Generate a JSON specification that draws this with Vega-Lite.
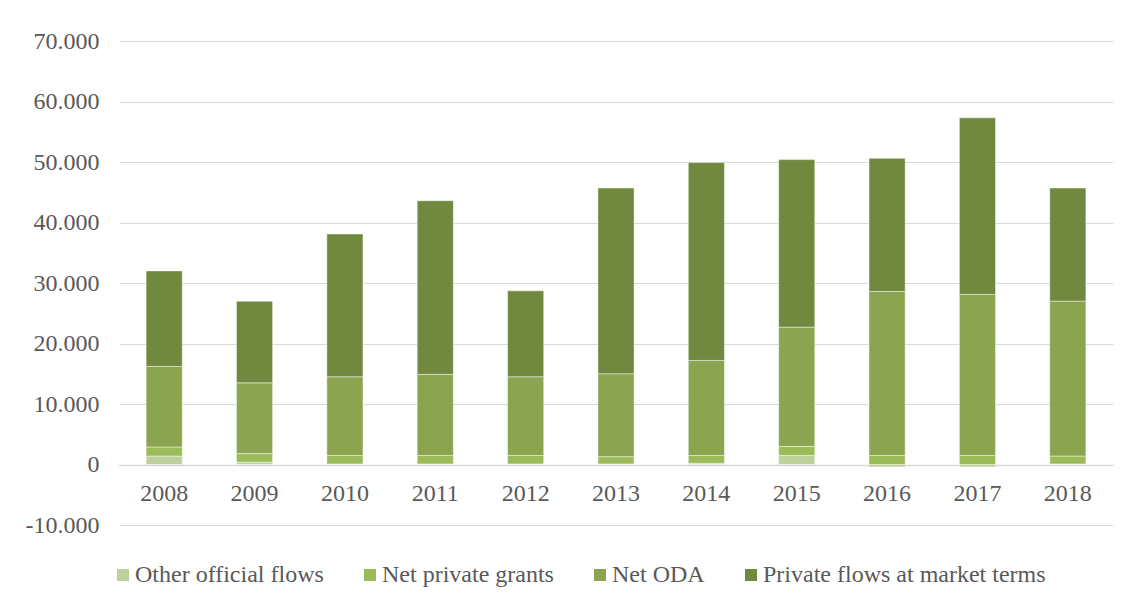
{
  "$schema": "https://vega.github.io/schema/vega-lite/v6.json",
  "width": 994,
  "height": 484,
  "autosize": "none",
  "padding": {"left": 119, "top": 41, "right": 16, "bottom": 81},
  "background": "white",
  "data": {
    "values": [
      {"year": "2008", "series": "Other official flows", "ord": 1, "value": 1400},
      {"year": "2008", "series": "Net private grants", "ord": 2, "value": 1500},
      {"year": "2008", "series": "Net ODA", "ord": 3, "value": 13300},
      {"year": "2008", "series": "Private flows at market terms", "ord": 4, "value": 15800},
      {"year": "2009", "series": "Other official flows", "ord": 1, "value": 400},
      {"year": "2009", "series": "Net private grants", "ord": 2, "value": 1400},
      {"year": "2009", "series": "Net ODA", "ord": 3, "value": 11700},
      {"year": "2009", "series": "Private flows at market terms", "ord": 4, "value": 13500},
      {"year": "2010", "series": "Other official flows", "ord": 1, "value": 100},
      {"year": "2010", "series": "Net private grants", "ord": 2, "value": 1400},
      {"year": "2010", "series": "Net ODA", "ord": 3, "value": 13000},
      {"year": "2010", "series": "Private flows at market terms", "ord": 4, "value": 23600},
      {"year": "2011", "series": "Other official flows", "ord": 1, "value": 100},
      {"year": "2011", "series": "Net private grants", "ord": 2, "value": 1400},
      {"year": "2011", "series": "Net ODA", "ord": 3, "value": 13400},
      {"year": "2011", "series": "Private flows at market terms", "ord": 4, "value": 28700},
      {"year": "2012", "series": "Other official flows", "ord": 1, "value": 100},
      {"year": "2012", "series": "Net private grants", "ord": 2, "value": 1400},
      {"year": "2012", "series": "Net ODA", "ord": 3, "value": 13000},
      {"year": "2012", "series": "Private flows at market terms", "ord": 4, "value": 14200},
      {"year": "2013", "series": "Other official flows", "ord": 1, "value": 100},
      {"year": "2013", "series": "Net private grants", "ord": 2, "value": 1200},
      {"year": "2013", "series": "Net ODA", "ord": 3, "value": 13700},
      {"year": "2013", "series": "Private flows at market terms", "ord": 4, "value": 30700},
      {"year": "2014", "series": "Other official flows", "ord": 1, "value": 200},
      {"year": "2014", "series": "Net private grants", "ord": 2, "value": 1300},
      {"year": "2014", "series": "Net ODA", "ord": 3, "value": 15700},
      {"year": "2014", "series": "Private flows at market terms", "ord": 4, "value": 32700},
      {"year": "2015", "series": "Other official flows", "ord": 1, "value": 1500},
      {"year": "2015", "series": "Net private grants", "ord": 2, "value": 1500},
      {"year": "2015", "series": "Net ODA", "ord": 3, "value": 19700},
      {"year": "2015", "series": "Private flows at market terms", "ord": 4, "value": 27700},
      {"year": "2016", "series": "Other official flows", "ord": 1, "value": -400},
      {"year": "2016", "series": "Net private grants", "ord": 2, "value": 1500},
      {"year": "2016", "series": "Net ODA", "ord": 3, "value": 27100},
      {"year": "2016", "series": "Private flows at market terms", "ord": 4, "value": 22000},
      {"year": "2017", "series": "Other official flows", "ord": 1, "value": -400},
      {"year": "2017", "series": "Net private grants", "ord": 2, "value": 1500},
      {"year": "2017", "series": "Net ODA", "ord": 3, "value": 26600},
      {"year": "2017", "series": "Private flows at market terms", "ord": 4, "value": 29200},
      {"year": "2018", "series": "Other official flows", "ord": 1, "value": 100},
      {"year": "2018", "series": "Net private grants", "ord": 2, "value": 1300},
      {"year": "2018", "series": "Net ODA", "ord": 3, "value": 25600},
      {"year": "2018", "series": "Private flows at market terms", "ord": 4, "value": 18700}
    ]
  },
  "mark": {"type": "bar", "stroke": "#ffffff", "strokeOpacity": 0.45, "strokeWidth": 1},
  "encoding": {
    "x": {
      "field": "year",
      "type": "nominal",
      "title": null,
      "scale": {"paddingInner": 0.6, "paddingOuter": 0.3},
      "axis": {
        "labelAngle": 0,
        "labelFont": "Liberation Serif",
        "labelFontSize": 24,
        "labelColor": "#595959",
        "ticks": false,
        "labelPadding": 16,
        "domainColor": "#d9d9d9",
        "domainWidth": 1.5,
        "offset": -60
      }
    },
    "y": {
      "field": "value",
      "type": "quantitative",
      "stack": "zero",
      "title": null,
      "scale": {"domain": [-10000, 70000], "nice": false},
      "axis": {
        "values": [-10000, 0, 10000, 20000, 30000, 40000, 50000, 60000, 70000],
        "labelExpr": "replace(replace(format(datum.value, ','), ',', '.'), '\u2212', '-')",
        "labelFont": "Liberation Serif",
        "labelFontSize": 24,
        "labelColor": "#595959",
        "ticks": false,
        "domain": false,
        "labelPadding": 20,
        "gridColor": "#d9d9d9",
        "gridWidth": 1
      }
    },
    "color": {
      "field": "series",
      "type": "nominal",
      "sort": ["Other official flows", "Net private grants", "Net ODA", "Private flows at market terms"],
      "scale": {
        "domain": ["Other official flows", "Net private grants", "Net ODA", "Private flows at market terms"],
        "range": ["#bcd19b", "#9bbb59", "#8aa44f", "#71893f"]
      },
      "legend": {
        "title": null,
        "orient": "none",
        "legendX": -8,
        "legendY": 522,
        "padding": 0,
        "direction": "horizontal",
        "symbolType": "square",
        "symbolSize": 144,
        "symbolStrokeWidth": 0,
        "labelFont": "Liberation Serif",
        "labelFontSize": 24,
        "labelColor": "#595959",
        "labelLimit": 0,
        "columnPadding": 34,
        "labelOffset": 0
      }
    },
    "order": {"field": "ord", "type": "quantitative"}
  },
  "config": {
    "view": {"stroke": null}
  }
}
